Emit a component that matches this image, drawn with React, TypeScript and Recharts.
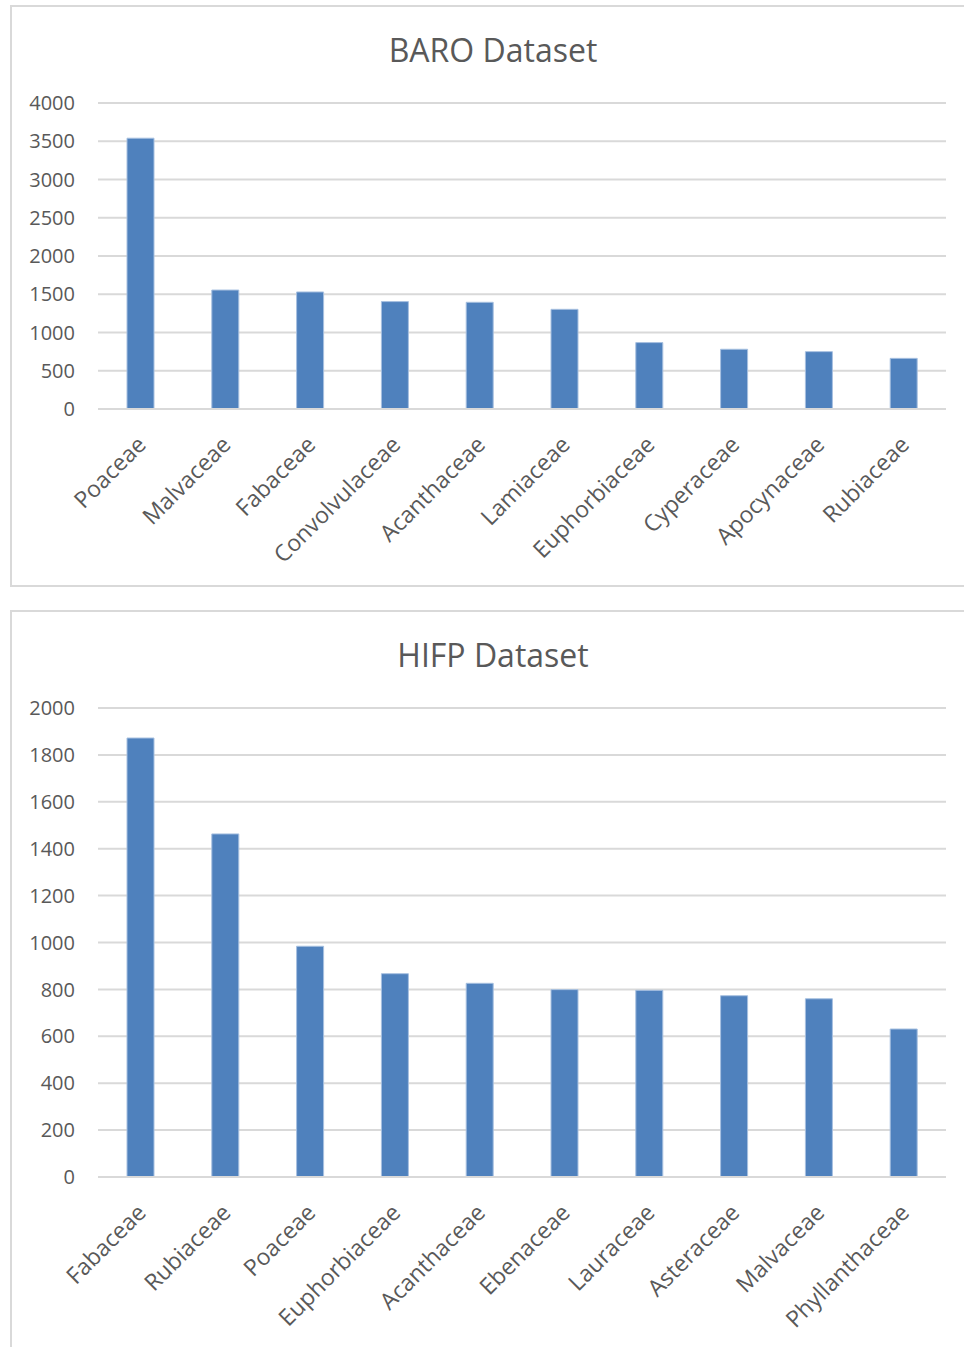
import React from "react";
import { BarChart, Bar, XAxis, YAxis, CartesianGrid } from "recharts";

const baroFamilies = ["Poaceae", "Malvaceae", "Fabaceae", "Convolvulaceae", "Acanthaceae", "Lamiaceae", "Euphorbiaceae", "Cyperaceae", "Apocynaceae", "Rubiaceae"];
const baroCounts = [3540, 1555, 1530, 1404, 1395, 1303, 868, 781, 750, 662];
const baroTicks = [0, 500, 1000, 1500, 2000, 2500, 3000, 3500, 4000];

const hifpFamilies = ["Fabaceae", "Rubiaceae", "Poaceae", "Euphorbiaceae", "Acanthaceae", "Ebenaceae", "Lauraceae", "Asteraceae", "Malvaceae", "Phyllanthaceae"];
const hifpCounts = [1872, 1463, 984, 867, 826, 799, 796, 773, 760, 631];
const hifpTicks = [0, 200, 400, 600, 800, 1000, 1200, 1400, 1600, 1800, 2000];

const FONT = "'Open Sans', sans-serif";
const TEXT = "#595959";
const GRID = "#d9d9d9";
const BAR = "#4f81bd";

const baroData = baroFamilies.map((name, i) => ({ name, value: baroCounts[i] }));
const hifpData = hifpFamilies.map((name, i) => ({ name, value: hifpCounts[i] }));

const RotTick = (props: any) => {
  const { x, y, payload } = props;
  return (
    <g transform={`translate(${x + 7},${y + 29})`}>
      <text x={0} y={0} textAnchor="end" transform="rotate(-45)" fill={TEXT} fontSize={23} fontFamily={FONT}>
        {payload.value}
      </text>
    </g>
  );
};

function Panel(props: { top: number; height: number; boxHeight: number; title: string; data: any[]; ticks: number[]; max: number; marginBottom: number; xHeight: number }) {
  const { top, height, boxHeight, title, data, ticks, max, marginBottom, xHeight } = props;
  return (
    <>
      <div style={{ position: "absolute", left: 10, top, width: 980, height: boxHeight, border: `2px solid ${GRID}`, boxSizing: "border-box" }} />
      <div style={{ position: "absolute", left: 10, top: top + 23, width: 966, textAlign: "center", fontFamily: FONT, fontSize: 32, color: TEXT, lineHeight: "44px" }}>{title}</div>
      <div style={{ position: "absolute", left: 10, top }}>
        <BarChart width={954} height={height} data={data} margin={{ top: 98, right: 18, left: 8, bottom: marginBottom }}>
          <CartesianGrid vertical={false} stroke={GRID} strokeWidth={2} />
          <XAxis dataKey="name" interval={0} axisLine={{ stroke: GRID, strokeWidth: 2 }} tickLine={false} height={xHeight} tick={<RotTick />} />
          <YAxis domain={[0, max]} ticks={ticks} width={80} axisLine={false} tickLine={false} tickMargin={17} tick={{ fill: TEXT, fontSize: 20, fontFamily: FONT }} />
          <Bar dataKey="value" fill={BAR} stroke="#a7c0e0" strokeWidth={1} barSize={27} isAnimationActive={false} />
        </BarChart>
      </div>
    </>
  );
}

export default function App() {
  return (
    <div style={{ position: "absolute", left: 0, top: 0, width: 964, height: 1347, overflow: "hidden", background: "#fff" }}>
      <Panel top={5} height={582} boxHeight={582} title="BARO Dataset" data={baroData} ticks={baroTicks} max={4000} marginBottom={8} xHeight={170} />
      <Panel top={610} height={737} boxHeight={800} title="HIFP Dataset" data={hifpData} ticks={hifpTicks} max={2000} marginBottom={5} xHeight={165} />
    </div>
  );
}
